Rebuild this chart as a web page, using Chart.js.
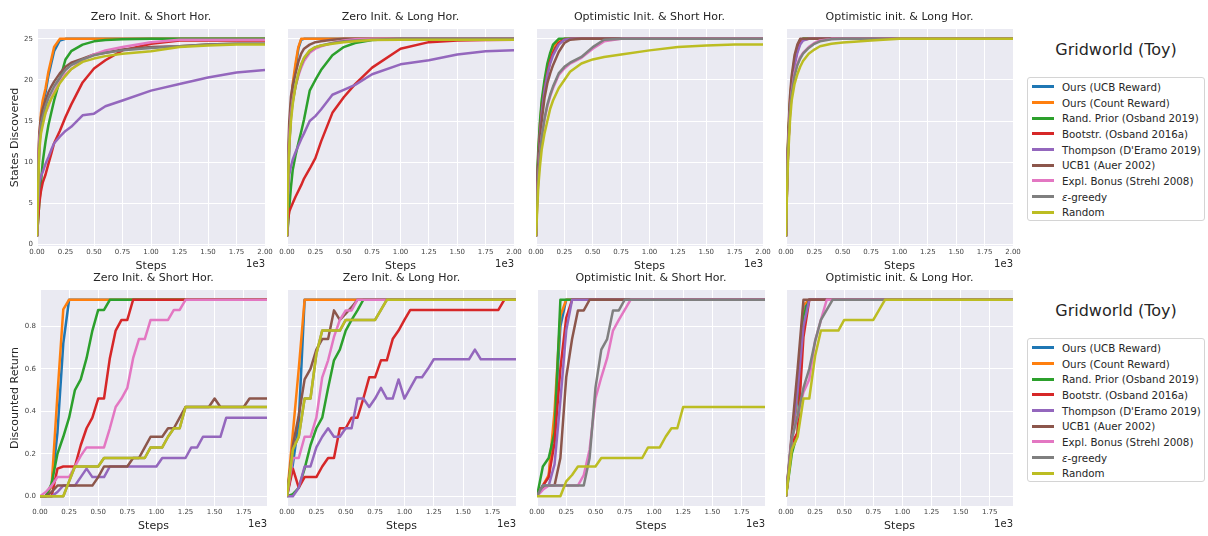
<!DOCTYPE html>
<html lang="en">
  <head>
    <meta charset="UTF-8" />
    <title>Gridworld (Toy)</title>
    <script src="https://cdn.jsdelivr.net/npm/chart.js@4.4.1/dist/chart.umd.min.js"></script>
    <style>
      body {
        margin: 0;
        width: 1208px;
        height: 536px;
        overflow: hidden;
        position: relative;
        background: #fff;
        font-family: "DejaVu Sans", sans-serif;
        color: #262626;
      }
      canvas {
        position: absolute;
      }
      .legend-title {
        position: absolute;
        left: 1027px;
        width: 178px;
        text-align: center;
        font-size: 16px;
        line-height: 20px;
      }
      .legend {
        position: absolute;
        left: 1027px;
        width: 178px;
        height: 144px;
        box-sizing: border-box;
        padding-top: 1px;
        border: 1px solid #d4d4d4;
        border-radius: 3px;
        background: #fff;
      }
      .legend .row {
        height: 15.7px;
        display: flex;
        align-items: center;
        font-size: 10.3px;
        white-space: nowrap;
      }
      .legend .swatch {
        width: 22px;
        height: 3px;
        margin-left: 4px;
        margin-right: 8px;
      }
    </style>
  </head>
  <body>
    <div class="legend-title" style="top: 40px">Gridworld (Toy)</div>
    <div class="legend" id="legendTop" style="top: 77px"></div>
    <div class="legend-title" style="top: 301px">Gridworld (Toy)</div>
    <div class="legend" id="legendBottom" style="top: 338px"></div>

    <script>
      const seriesNames = [
        "Ours (UCB Reward)",
        "Ours (Count Reward)",
        "Rand. Prior (Osband 2019)",
        "Bootstr. (Osband 2016a)",
        "Thompson (D'Eramo 2019)",
        "UCB1 (Auer 2002)",
        "Expl. Bonus (Strehl 2008)",
        "ε-greedy",
        "Random",
      ];

      // x values (steps)
      const stepsTop = [0, 10, 20, 35, 50, 75, 100, 125, 150, 200, 250, 300, 400, 500, 600, 750, 1000, 1250, 1500, 1750, 2000];
      const stepsBottom = [
        0, 50, 100, 150, 200, 250, 300, 350, 400, 450,
        500, 550, 600, 650, 700, 750, 800, 850, 900, 950,
        1000, 1050, 1100, 1150, 1200, 1250, 1300, 1350, 1400, 1450,
        1500, 1550, 1600, 1650, 1700, 1750, 1800, 1850, 1900, 1950,
      ];

      const ticksStepsTop = [0, 250, 500, 750, 1000, 1250, 1500, 1750, 2000];
      const ticksStepsBottom = [0, 250, 500, 750, 1000, 1250, 1500, 1750];
      const ticksStates = [0, 5, 10, 15, 20, 25];
      const ticksReturn = [0, 0.2, 0.4, 0.6, 0.8];

      // states discovered, one row per series (same order as seriesNames)
      const statesZeroShort = [
        [1, 7, 12, 15, 17, 18.5, 20.5, 22, 23.5, 24.8, 25, 25, 25, 25, 25, 25, 25, 25, 25, 25, 25],
        [1, 8, 13, 16, 17.5, 19, 21, 22.5, 24, 25, 25, 25, 25, 25, 25, 25, 25, 25, 25, 25, 25],
        [1, 3, 5, 7.5, 10, 12.5, 14.5, 16, 17.5, 20, 22.5, 23.5, 24.3, 24.7, 24.85, 24.95, 25, 25, 25, 25, 25],
        [1, 3, 5, 6.5, 7.5, 8.5, 9.8, 11, 12.3, 13.8, 15.5, 17, 19.7, 21.4, 22.4, 23.6, 24.4, 24.8, 24.8, 24.8, 24.8],
        [1, 5, 7.5, 8.3, 8.8, 9.8, 10.6, 11.5, 12.3, 13.1, 13.8, 14.3, 15.7, 15.9, 16.8, 17.5, 18.7, 19.5, 20.3, 20.9, 21.2],
        [1, 10, 13.5, 15.5, 16.5, 17.5, 18.5, 19.2, 19.8, 20.8, 21.6, 22.1, 22.6, 23.1, 23.3, 23.7, 24, 24.1, 24.3, 24.4, 24.4],
        [1, 9, 12.7, 14.5, 15.3, 16, 16.8, 17.8, 18.5, 19.8, 20.7, 21.3, 22.4, 23.1, 23.6, 24, 24.6, 24.9, 24.9, 24.9, 24.9],
        [1, 8, 12, 14.5, 15.5, 16.8, 17.8, 18.5, 19.2, 20.3, 21.2, 21.8, 22.5, 23, 23.3, 23.6, 23.9, 24.1, 24.3, 24.4, 24.4],
        [1, 7, 11.4, 13.5, 14.5, 16, 17, 17.7, 18.3, 19.6, 20.5, 21.3, 22.2, 22.6, 22.9, 23.2, 23.5, 24, 24.2, 24.3, 24.3],
      ];
      const statesZeroLong = [
        [1, 7, 12, 16, 19, 21.5, 23.8, 24.9, 25, 25, 25, 25, 25, 25, 25, 25, 25, 25, 25, 25, 25],
        [1, 8, 13, 17, 19.5, 22, 24, 25, 25, 25, 25, 25, 25, 25, 25, 25, 25, 25, 25, 25, 25],
        [1, 2.5, 4.5, 7, 9, 10.8, 12.3, 13.7, 15.2, 18.7, 20, 21.2, 23, 24, 24.5, 24.85, 25, 25, 25, 25, 25],
        [1, 3, 4, 4.5, 5, 5.8, 6.5, 7.2, 8, 9.2, 10.5, 12.5, 16, 17.9, 19.5, 21.5, 23.8, 24.6, 24.8, 24.85, 24.9],
        [1, 6, 8.5, 9.5, 10.3, 11.2, 12, 12.8, 13.5, 15, 15.6, 16.4, 18.2, 18.8, 19.4, 20.7, 21.9, 22.4, 23.1, 23.5, 23.6],
        [1, 11, 15, 18, 19.3, 20.8, 22.2, 23.2, 23.8, 24.3, 24.6, 24.7, 24.9, 25, 25, 25, 25, 25, 25, 25, 25],
        [1, 9, 13, 16, 17.5, 19.2, 20.5, 21.5, 22.3, 23.3, 23.8, 24.1, 24.5, 24.8, 24.95, 25, 25, 25, 25, 25, 25],
        [1, 8.5, 12.5, 15.5, 17.3, 19.2, 20.7, 21.8, 22.6, 23.5, 24, 24.2, 24.5, 24.7, 24.8, 24.9, 25, 25, 25, 25, 25],
        [1, 8, 12, 15, 17, 19.3, 20.8, 21.9, 22.7, 23.6, 24, 24.2, 24.4, 24.6, 24.7, 24.85, 24.9, 24.9, 24.9, 24.9, 24.9],
      ];
      const statesOptShort = [
        [1, 7, 10.5, 14, 16.5, 19.2, 21.2, 22.7, 23.8, 24.7, 25, 25, 25, 25, 25, 25, 25, 25, 25, 25, 25],
        [1, 7, 11, 14.5, 17, 19.5, 21.5, 23, 24, 24.8, 25, 25, 25, 25, 25, 25, 25, 25, 25, 25, 25],
        [1, 8, 11.5, 15, 17.5, 20, 22, 23.3, 24.3, 25, 25, 25, 25, 25, 25, 25, 25, 25, 25, 25, 25],
        [1, 6.5, 10, 13.5, 16, 18.8, 20.8, 22.3, 23.3, 24.5, 24.9, 25, 25, 25, 25, 25, 25, 25, 25, 25, 25],
        [1, 6.5, 10, 13.3, 15.8, 18.7, 20.6, 22, 23, 24.3, 24.9, 25, 25, 25, 25, 25, 25, 25, 25, 25, 25],
        [1, 6, 9.5, 12.8, 15, 17.8, 19.6, 20.8, 21.8, 23.4, 24.5, 24.9, 25, 25, 25, 25, 25, 25, 25, 25, 25],
        [1, 5, 8, 11, 13, 15.2, 16.8, 18, 19, 20.6, 21.4, 22, 22.7, 23.8, 24.7, 25, 25, 25, 25, 25, 25],
        [1, 5, 8, 11, 13, 15.3, 17, 18.2, 19.2, 20.8, 21.6, 22.1, 22.8, 24, 24.9, 25, 25, 25, 25, 25, 25],
        [1, 4, 7, 9.5, 11.5, 13.5, 15, 16.5, 17.5, 19, 20, 21, 22, 22.5, 22.8, 23.1, 23.6, 24, 24.2, 24.3, 24.3],
      ];
      const statesOptLong = [
        [1, 8.5, 12.5, 17, 19.5, 22.2, 23.8, 24.8, 25, 25, 25, 25, 25, 25, 25, 25, 25, 25, 25, 25, 25],
        [1, 9, 13, 17.5, 20, 22.5, 24, 24.9, 25, 25, 25, 25, 25, 25, 25, 25, 25, 25, 25, 25, 25],
        [1, 8.5, 12.5, 17, 19.7, 22.3, 23.9, 24.8, 25, 25, 25, 25, 25, 25, 25, 25, 25, 25, 25, 25, 25],
        [1, 8, 12, 16.5, 19.3, 22, 23.6, 24.6, 24.9, 25, 25, 25, 25, 25, 25, 25, 25, 25, 25, 25, 25],
        [1, 8, 12, 16.5, 19, 21.8, 23.3, 24.3, 24.8, 25, 25, 25, 25, 25, 25, 25, 25, 25, 25, 25, 25],
        [1, 9, 13.5, 18, 20.5, 23, 24.3, 25, 25, 25, 25, 25, 25, 25, 25, 25, 25, 25, 25, 25, 25],
        [1, 8, 12, 16, 18.5, 20.8, 22, 22.8, 23.3, 24, 24.5, 24.8, 25, 25, 25, 25, 25, 25, 25, 25, 25],
        [1, 8, 12, 16, 18.3, 20.5, 21.8, 22.6, 23.2, 23.9, 24.4, 24.7, 24.95, 25, 25, 25, 25, 25, 25, 25, 25],
        [1, 7, 11, 15, 17.5, 19.5, 20.7, 21.6, 22.3, 23.2, 23.7, 24.1, 24.4, 24.55, 24.65, 24.8, 25, 25, 25, 25, 25],
      ];

      // discounted return, one row per series, 40 points each (stepsBottom)
      const returnZeroShort = [
        [0, 0, 0.05, 0.3, 0.72, 0.925, 0.925, 0.925, 0.925, 0.925,
         0.925, 0.925, 0.925, 0.925, 0.925, 0.925, 0.925, 0.925, 0.925, 0.925,
         0.925, 0.925, 0.925, 0.925, 0.925, 0.925, 0.925, 0.925, 0.925, 0.925,
         0.925, 0.925, 0.925, 0.925, 0.925, 0.925, 0.925, 0.925, 0.925, 0.925],
        [0, 0, 0.05, 0.48, 0.88, 0.925, 0.925, 0.925, 0.925, 0.925,
         0.925, 0.925, 0.925, 0.925, 0.925, 0.925, 0.925, 0.925, 0.925, 0.925,
         0.925, 0.925, 0.925, 0.925, 0.925, 0.925, 0.925, 0.925, 0.925, 0.925,
         0.925, 0.925, 0.925, 0.925, 0.925, 0.925, 0.925, 0.925, 0.925, 0.925],
        [0, 0, 0.06, 0.2, 0.28, 0.37, 0.5, 0.55, 0.65, 0.78,
         0.877, 0.877, 0.925, 0.925, 0.925, 0.925, 0.925, 0.925, 0.925, 0.925,
         0.925, 0.925, 0.925, 0.925, 0.925, 0.925, 0.925, 0.925, 0.925, 0.925,
         0.925, 0.925, 0.925, 0.925, 0.925, 0.925, 0.925, 0.925, 0.925, 0.925],
        [0, 0, 0, 0.13, 0.14, 0.14, 0.14, 0.24, 0.32, 0.37,
         0.46, 0.46, 0.65, 0.78, 0.83, 0.83, 0.925, 0.925, 0.925, 0.925,
         0.925, 0.925, 0.925, 0.925, 0.925, 0.925, 0.925, 0.925, 0.925, 0.925,
         0.925, 0.925, 0.925, 0.925, 0.925, 0.925, 0.925, 0.925, 0.925, 0.925],
        [0, 0, 0, 0.02, 0.05, 0.05, 0.05, 0.09, 0.13, 0.09,
         0.09, 0.09, 0.14, 0.14, 0.14, 0.14, 0.14, 0.14, 0.14, 0.14,
         0.14, 0.18, 0.18, 0.18, 0.18, 0.18, 0.23, 0.23, 0.28, 0.28,
         0.28, 0.28, 0.37, 0.37, 0.37, 0.37, 0.37, 0.37, 0.37, 0.37],
        [0, 0, 0.02, 0.05, 0.05, 0.05, 0.05, 0.05, 0.05, 0.05,
         0.09, 0.14, 0.14, 0.14, 0.14, 0.14, 0.18, 0.18, 0.23, 0.28,
         0.28, 0.28, 0.32, 0.32, 0.37, 0.42, 0.42, 0.42, 0.42, 0.42,
         0.46, 0.42, 0.42, 0.42, 0.42, 0.42, 0.46, 0.46, 0.46, 0.46],
        [0, 0.02, 0.05, 0.09, 0.09, 0.09, 0.14, 0.19, 0.23, 0.23,
         0.23, 0.23, 0.32, 0.42, 0.46, 0.51, 0.65, 0.74, 0.74, 0.83,
         0.83, 0.83, 0.83, 0.877, 0.877, 0.925, 0.925, 0.925, 0.925, 0.925,
         0.925, 0.925, 0.925, 0.925, 0.925, 0.925, 0.925, 0.925, 0.925, 0.925],
        [0, 0, 0, 0, 0, 0.07, 0.14, 0.14, 0.14, 0.14,
         0.14, 0.18, 0.18, 0.18, 0.18, 0.18, 0.18, 0.18, 0.18, 0.23,
         0.23, 0.23, 0.28, 0.32, 0.32, 0.42, 0.42, 0.42, 0.42, 0.42,
         0.42, 0.42, 0.42, 0.42, 0.42, 0.42, 0.42, 0.42, 0.42, 0.42],
        [0, 0, 0, 0, 0, 0.07, 0.14, 0.14, 0.14, 0.14,
         0.14, 0.18, 0.18, 0.18, 0.18, 0.18, 0.18, 0.18, 0.18, 0.23,
         0.23, 0.23, 0.28, 0.32, 0.32, 0.42, 0.42, 0.42, 0.42, 0.42,
         0.42, 0.42, 0.42, 0.42, 0.42, 0.42, 0.42, 0.42, 0.42, 0.42],
      ];
      const returnZeroLong = [
        [0, 0.15, 0.35, 0.925, 0.925, 0.925, 0.925, 0.925, 0.925, 0.925,
         0.925, 0.925, 0.925, 0.925, 0.925, 0.925, 0.925, 0.925, 0.925, 0.925,
         0.925, 0.925, 0.925, 0.925, 0.925, 0.925, 0.925, 0.925, 0.925, 0.925,
         0.925, 0.925, 0.925, 0.925, 0.925, 0.925, 0.925, 0.925, 0.925, 0.925],
        [0, 0.3, 0.6, 0.925, 0.925, 0.925, 0.925, 0.925, 0.925, 0.925,
         0.925, 0.925, 0.925, 0.925, 0.925, 0.925, 0.925, 0.925, 0.925, 0.925,
         0.925, 0.925, 0.925, 0.925, 0.925, 0.925, 0.925, 0.925, 0.925, 0.925,
         0.925, 0.925, 0.925, 0.925, 0.925, 0.925, 0.925, 0.925, 0.925, 0.925],
        [0, 0.01, 0.04, 0.13, 0.24, 0.32, 0.37, 0.51, 0.64, 0.69,
         0.78, 0.83, 0.875, 0.925, 0.925, 0.925, 0.925, 0.925, 0.925, 0.925,
         0.925, 0.925, 0.925, 0.925, 0.925, 0.925, 0.925, 0.925, 0.925, 0.925,
         0.925, 0.925, 0.925, 0.925, 0.925, 0.925, 0.925, 0.925, 0.925, 0.925],
        [0, 0.13, 0.04, 0.09, 0.09, 0.09, 0.14, 0.18, 0.18, 0.32,
         0.32, 0.37, 0.37, 0.46, 0.56, 0.56, 0.64, 0.64, 0.74, 0.78,
         0.83, 0.877, 0.877, 0.877, 0.877, 0.877, 0.877, 0.877, 0.877, 0.877,
         0.877, 0.877, 0.877, 0.877, 0.877, 0.877, 0.877, 0.925, 0.925, 0.925],
        [0, 0, 0.04, 0.14, 0.14, 0.23, 0.28, 0.32, 0.28, 0.28,
         0.32, 0.32, 0.46, 0.46, 0.42, 0.46, 0.51, 0.46, 0.46, 0.55,
         0.46, 0.51, 0.56, 0.56, 0.6, 0.645, 0.645, 0.645, 0.645, 0.645,
         0.645, 0.645, 0.69, 0.645, 0.645, 0.645, 0.645, 0.645, 0.645, 0.645],
        [0, 0.24, 0.38, 0.55, 0.6, 0.69, 0.74, 0.74, 0.875, 0.83,
         0.86, 0.89, 0.925, 0.925, 0.925, 0.925, 0.925, 0.925, 0.925, 0.925,
         0.925, 0.925, 0.925, 0.925, 0.925, 0.925, 0.925, 0.925, 0.925, 0.925,
         0.925, 0.925, 0.925, 0.925, 0.925, 0.925, 0.925, 0.925, 0.925, 0.925],
        [0, 0.18, 0.18, 0.28, 0.28, 0.37, 0.56, 0.64, 0.75, 0.83,
         0.875, 0.875, 0.925, 0.925, 0.925, 0.925, 0.925, 0.925, 0.925, 0.925,
         0.925, 0.925, 0.925, 0.925, 0.925, 0.925, 0.925, 0.925, 0.925, 0.925,
         0.925, 0.925, 0.925, 0.925, 0.925, 0.925, 0.925, 0.925, 0.925, 0.925],
        [0, 0.22, 0.28, 0.46, 0.46, 0.67, 0.78, 0.78, 0.78, 0.78,
         0.83, 0.83, 0.83, 0.83, 0.83, 0.83, 0.877, 0.925, 0.925, 0.925,
         0.925, 0.925, 0.925, 0.925, 0.925, 0.925, 0.925, 0.925, 0.925, 0.925,
         0.925, 0.925, 0.925, 0.925, 0.925, 0.925, 0.925, 0.925, 0.925, 0.925],
        [0, 0.22, 0.28, 0.46, 0.46, 0.67, 0.78, 0.78, 0.78, 0.78,
         0.83, 0.83, 0.83, 0.83, 0.83, 0.83, 0.877, 0.925, 0.925, 0.925,
         0.925, 0.925, 0.925, 0.925, 0.925, 0.925, 0.925, 0.925, 0.925, 0.925,
         0.925, 0.925, 0.925, 0.925, 0.925, 0.925, 0.925, 0.925, 0.925, 0.925],
      ];
      const returnOptShort = [
        [0, 0.05, 0.09, 0.35, 0.8, 0.925, 0.925, 0.925, 0.925, 0.925,
         0.925, 0.925, 0.925, 0.925, 0.925, 0.925, 0.925, 0.925, 0.925, 0.925,
         0.925, 0.925, 0.925, 0.925, 0.925, 0.925, 0.925, 0.925, 0.925, 0.925,
         0.925, 0.925, 0.925, 0.925, 0.925, 0.925, 0.925, 0.925, 0.925, 0.925],
        [0, 0.05, 0.1, 0.4, 0.85, 0.925, 0.925, 0.925, 0.925, 0.925,
         0.925, 0.925, 0.925, 0.925, 0.925, 0.925, 0.925, 0.925, 0.925, 0.925,
         0.925, 0.925, 0.925, 0.925, 0.925, 0.925, 0.925, 0.925, 0.925, 0.925,
         0.925, 0.925, 0.925, 0.925, 0.925, 0.925, 0.925, 0.925, 0.925, 0.925],
        [0, 0.14, 0.18, 0.3, 0.925, 0.925, 0.925, 0.925, 0.925, 0.925,
         0.925, 0.925, 0.925, 0.925, 0.925, 0.925, 0.925, 0.925, 0.925, 0.925,
         0.925, 0.925, 0.925, 0.925, 0.925, 0.925, 0.925, 0.925, 0.925, 0.925,
         0.925, 0.925, 0.925, 0.925, 0.925, 0.925, 0.925, 0.925, 0.925, 0.925],
        [0, 0.05, 0.09, 0.25, 0.6, 0.84, 0.925, 0.925, 0.925, 0.925,
         0.925, 0.925, 0.925, 0.925, 0.925, 0.925, 0.925, 0.925, 0.925, 0.925,
         0.925, 0.925, 0.925, 0.925, 0.925, 0.925, 0.925, 0.925, 0.925, 0.925,
         0.925, 0.925, 0.925, 0.925, 0.925, 0.925, 0.925, 0.925, 0.925, 0.925],
        [0, 0.05, 0.05, 0.15, 0.45, 0.78, 0.925, 0.925, 0.925, 0.925,
         0.925, 0.925, 0.925, 0.925, 0.925, 0.925, 0.925, 0.925, 0.925, 0.925,
         0.925, 0.925, 0.925, 0.925, 0.925, 0.925, 0.925, 0.925, 0.925, 0.925,
         0.925, 0.925, 0.925, 0.925, 0.925, 0.925, 0.925, 0.925, 0.925, 0.925],
        [0, 0.04, 0.05, 0.05, 0.18, 0.56, 0.74, 0.875, 0.875, 0.925,
         0.925, 0.925, 0.925, 0.925, 0.925, 0.925, 0.925, 0.925, 0.925, 0.925,
         0.925, 0.925, 0.925, 0.925, 0.925, 0.925, 0.925, 0.925, 0.925, 0.925,
         0.925, 0.925, 0.925, 0.925, 0.925, 0.925, 0.925, 0.925, 0.925, 0.925],
        [0, 0.03, 0.05, 0.05, 0.05, 0.05, 0.05, 0.05, 0.1, 0.22,
         0.46, 0.56, 0.65, 0.78, 0.83, 0.877, 0.925, 0.925, 0.925, 0.925,
         0.925, 0.925, 0.925, 0.925, 0.925, 0.925, 0.925, 0.925, 0.925, 0.925,
         0.925, 0.925, 0.925, 0.925, 0.925, 0.925, 0.925, 0.925, 0.925, 0.925],
        [0, 0.05, 0.05, 0.05, 0.05, 0.05, 0.05, 0.05, 0.05, 0.18,
         0.51, 0.69, 0.74, 0.875, 0.875, 0.925, 0.925, 0.925, 0.925, 0.925,
         0.925, 0.925, 0.925, 0.925, 0.925, 0.925, 0.925, 0.925, 0.925, 0.925,
         0.925, 0.925, 0.925, 0.925, 0.925, 0.925, 0.925, 0.925, 0.925, 0.925],
        [0, 0, 0, 0, 0, 0.07, 0.1, 0.14, 0.14, 0.14,
         0.14, 0.18, 0.18, 0.18, 0.18, 0.18, 0.18, 0.18, 0.18, 0.23,
         0.23, 0.23, 0.28, 0.32, 0.32, 0.42, 0.42, 0.42, 0.42, 0.42,
         0.42, 0.42, 0.42, 0.42, 0.42, 0.42, 0.42, 0.42, 0.42, 0.42],
      ];
      const returnOptLong = [
        [0, 0.25, 0.48, 0.88, 0.925, 0.925, 0.925, 0.925, 0.925, 0.925,
         0.925, 0.925, 0.925, 0.925, 0.925, 0.925, 0.925, 0.925, 0.925, 0.925,
         0.925, 0.925, 0.925, 0.925, 0.925, 0.925, 0.925, 0.925, 0.925, 0.925,
         0.925, 0.925, 0.925, 0.925, 0.925, 0.925, 0.925, 0.925, 0.925, 0.925],
        [0, 0.25, 0.5, 0.9, 0.925, 0.925, 0.925, 0.925, 0.925, 0.925,
         0.925, 0.925, 0.925, 0.925, 0.925, 0.925, 0.925, 0.925, 0.925, 0.925,
         0.925, 0.925, 0.925, 0.925, 0.925, 0.925, 0.925, 0.925, 0.925, 0.925,
         0.925, 0.925, 0.925, 0.925, 0.925, 0.925, 0.925, 0.925, 0.925, 0.925],
        [0, 0.2, 0.3, 0.85, 0.925, 0.925, 0.925, 0.925, 0.925, 0.925,
         0.925, 0.925, 0.925, 0.925, 0.925, 0.925, 0.925, 0.925, 0.925, 0.925,
         0.925, 0.925, 0.925, 0.925, 0.925, 0.925, 0.925, 0.925, 0.925, 0.925,
         0.925, 0.925, 0.925, 0.925, 0.925, 0.925, 0.925, 0.925, 0.925, 0.925],
        [0, 0.25, 0.3, 0.75, 0.925, 0.925, 0.925, 0.925, 0.925, 0.925,
         0.925, 0.925, 0.925, 0.925, 0.925, 0.925, 0.925, 0.925, 0.925, 0.925,
         0.925, 0.925, 0.925, 0.925, 0.925, 0.925, 0.925, 0.925, 0.925, 0.925,
         0.925, 0.925, 0.925, 0.925, 0.925, 0.925, 0.925, 0.925, 0.925, 0.925],
        [0, 0.28, 0.5, 0.8, 0.925, 0.925, 0.925, 0.925, 0.925, 0.925,
         0.925, 0.925, 0.925, 0.925, 0.925, 0.925, 0.925, 0.925, 0.925, 0.925,
         0.925, 0.925, 0.925, 0.925, 0.925, 0.925, 0.925, 0.925, 0.925, 0.925,
         0.925, 0.925, 0.925, 0.925, 0.925, 0.925, 0.925, 0.925, 0.925, 0.925],
        [0, 0.3, 0.6, 0.925, 0.925, 0.925, 0.925, 0.925, 0.925, 0.925,
         0.925, 0.925, 0.925, 0.925, 0.925, 0.925, 0.925, 0.925, 0.925, 0.925,
         0.925, 0.925, 0.925, 0.925, 0.925, 0.925, 0.925, 0.925, 0.925, 0.925,
         0.925, 0.925, 0.925, 0.925, 0.925, 0.925, 0.925, 0.925, 0.925, 0.925],
        [0, 0.27, 0.38, 0.49, 0.55, 0.73, 0.83, 0.925, 0.925, 0.925,
         0.925, 0.925, 0.925, 0.925, 0.925, 0.925, 0.925, 0.925, 0.925, 0.925,
         0.925, 0.925, 0.925, 0.925, 0.925, 0.925, 0.925, 0.925, 0.925, 0.925,
         0.925, 0.925, 0.925, 0.925, 0.925, 0.925, 0.925, 0.925, 0.925, 0.925],
        [0, 0.27, 0.38, 0.51, 0.6, 0.73, 0.83, 0.877, 0.925, 0.925,
         0.925, 0.925, 0.925, 0.925, 0.925, 0.925, 0.925, 0.925, 0.925, 0.925,
         0.925, 0.925, 0.925, 0.925, 0.925, 0.925, 0.925, 0.925, 0.925, 0.925,
         0.925, 0.925, 0.925, 0.925, 0.925, 0.925, 0.925, 0.925, 0.925, 0.925],
        [0, 0.22, 0.28, 0.46, 0.46, 0.66, 0.78, 0.78, 0.78, 0.78,
         0.83, 0.83, 0.83, 0.83, 0.83, 0.83, 0.877, 0.925, 0.925, 0.925,
         0.925, 0.925, 0.925, 0.925, 0.925, 0.925, 0.925, 0.925, 0.925, 0.925,
         0.925, 0.925, 0.925, 0.925, 0.925, 0.925, 0.925, 0.925, 0.925, 0.925],
      ];

      // tab10 colours
      const colors = ["#1f77b4", "#ff7f0e", "#2ca02c", "#d62728", "#9467bd", "#8c564b", "#e377c2", "#7f7f7f", "#bcbd22"];

      const FONT = "'DejaVu Sans', sans-serif";
      Chart.defaults.font.family = FONT;

      // seaborn-like panel background + titles drawn around the plot area
      const panelDecor = {
        id: "panelDecor",
        beforeDraw(chart) {
          const a = chart.chartArea;
          const ctx = chart.ctx;
          ctx.save();
          ctx.fillStyle = "#eaeaf2";
          ctx.fillRect(a.left, a.top, a.right - a.left, a.bottom - a.top);
          ctx.restore();
        },
        afterDraw(chart, args, opts) {
          const a = chart.chartArea;
          const ctx = chart.ctx;
          const mid = (a.left + a.right) / 2;
          ctx.save();
          ctx.fillStyle = "#262626";
          ctx.textBaseline = "middle";
          ctx.textAlign = "center";
          ctx.font = "11px " + FONT;
          ctx.fillText(opts.title, mid, a.top - 11.5);
          ctx.fillText("Steps", mid, a.bottom + 20);
          ctx.textAlign = "right";
          ctx.font = "10px " + FONT;
          ctx.fillText("1e3", a.right, a.bottom + 18);
          if (opts.yTitle) {
            ctx.translate(15, (a.top + a.bottom) / 2);
            ctx.rotate(-Math.PI / 2);
            ctx.textAlign = "center";
            ctx.font = "11px " + FONT;
            ctx.fillText(opts.yTitle, 0, 0);
          }
          ctx.restore();
        },
      };

      const panels = [
        { title: "Zero Init. & Short Hor.", series: statesZeroShort, xs: stepsTop, kind: "states", L: 37, R: 265, T: 29, B: 246, yTitle: "States Discovered" },
        { title: "Zero Init. & Long Hor.", series: statesZeroLong, xs: stepsTop, kind: "states", L: 287, R: 514, T: 29, B: 246 },
        { title: "Optimistic Init. & Short Hor.", series: statesOptShort, xs: stepsTop, kind: "states", L: 536, R: 763, T: 29, B: 246 },
        { title: "Optimistic init. & Long Hor.", series: statesOptLong, xs: stepsTop, kind: "states", L: 786, R: 1013, T: 29, B: 246 },
        { title: "Zero Init. & Short Hor.", series: returnZeroShort, xs: stepsBottom, kind: "return", L: 40, R: 267, T: 290, B: 506, yTitle: "Discounted Return" },
        { title: "Zero Init. & Long Hor.", series: returnZeroLong, xs: stepsBottom, kind: "return", L: 287, R: 516, T: 290, B: 506 },
        { title: "Optimistic Init. & Short Hor.", series: returnOptShort, xs: stepsBottom, kind: "return", L: 537, R: 765, T: 290, B: 506 },
        { title: "Optimistic init. & Long Hor.", series: returnOptLong, xs: stepsBottom, kind: "return", L: 786, R: 1013, T: 290, B: 506 },
      ];

      panels.forEach((p) => {
        const isStates = p.kind === "states";
        const first = !!p.yTitle;
        const padL = first ? p.L : 14;
        const padR = 16, padT = 30, padB = 34;
        const w = p.R - p.L + padL + padR;
        const h = p.B - p.T + padT + padB;

        const canvas = document.createElement("canvas");
        canvas.width = w;
        canvas.height = h;
        canvas.style.width = w + "px";
        canvas.style.height = h + "px";
        canvas.style.left = p.L - padL + "px";
        canvas.style.top = p.T - padT + "px";
        document.body.appendChild(canvas);

        const xTicks = isStates ? ticksStepsTop : ticksStepsBottom;
        const yTicks = isStates ? ticksStates : ticksReturn;

        new Chart(canvas, {
          type: "line",
          data: {
            datasets: p.series.map((ys, i) => ({
              label: seriesNames[i],
              data: p.xs.map((x, k) => ({ x: x, y: ys[k] })),
              borderColor: colors[i],
              backgroundColor: colors[i],
              borderWidth: 2.5,
              borderJoinStyle: "round",
              pointRadius: 0,
              tension: 0,
              fill: false,
              order: 9 - i,
            })),
          },
          options: {
            responsive: false,
            animation: false,
            devicePixelRatio: 1,
            events: [],
            layout: { padding: { left: 0, top: padT, right: padR, bottom: 0 } },
            plugins: {
              legend: { display: false },
              tooltip: { enabled: false },
              panelDecor: { title: p.title, yTitle: p.yTitle },
            },
            scales: {
              x: {
                type: "linear",
                min: 0,
                max: isStates ? 2000 : 1950,
                afterBuildTicks: (s) => { s.ticks = xTicks.map((v) => ({ value: v })); },
                afterFit: (s) => { s.height = padB; },
                grid: { color: "#ffffff", lineWidth: 1, drawTicks: false },
                border: { display: false },
                ticks: {
                  padding: 2,
                  color: "#444",
                  font: { size: 7 },
                  maxRotation: 0,
                  autoSkip: false,
                  callback: (v) => (v / 1000).toFixed(2),
                },
              },
              y: {
                type: "linear",
                min: isStates ? -0.2 : -0.046,
                max: isStates ? 26.2 : 0.971,
                afterBuildTicks: (s) => { s.ticks = yTicks.map((v) => ({ value: v })); },
                afterFit: (s) => { s.width = padL; },
                grid: { color: "#ffffff", lineWidth: 1, drawTicks: false },
                border: { display: false },
                ticks: {
                  display: first,
                  padding: 4,
                  color: "#444",
                  font: { size: 7 },
                  autoSkip: false,
                  callback: (v) => (isStates ? String(v) : v.toFixed(1)),
                },
              },
            },
          },
          plugins: [panelDecor],
        });
      });

      // legends
      ["legendTop", "legendBottom"].forEach((id) => {
        const box = document.getElementById(id);
        seriesNames.forEach((name, i) => {
          const row = document.createElement("div");
          row.className = "row";
          const sw = document.createElement("span");
          sw.className = "swatch";
          sw.style.background = colors[i];
          const txt = document.createElement("span");
          if (name.startsWith("ε")) {
            txt.innerHTML = "<i>ε</i>" + name.slice(1);
          } else {
            txt.textContent = name;
          }
          row.appendChild(sw);
          row.appendChild(txt);
          box.appendChild(row);
        });
      });
    </script>
  </body>
</html>
